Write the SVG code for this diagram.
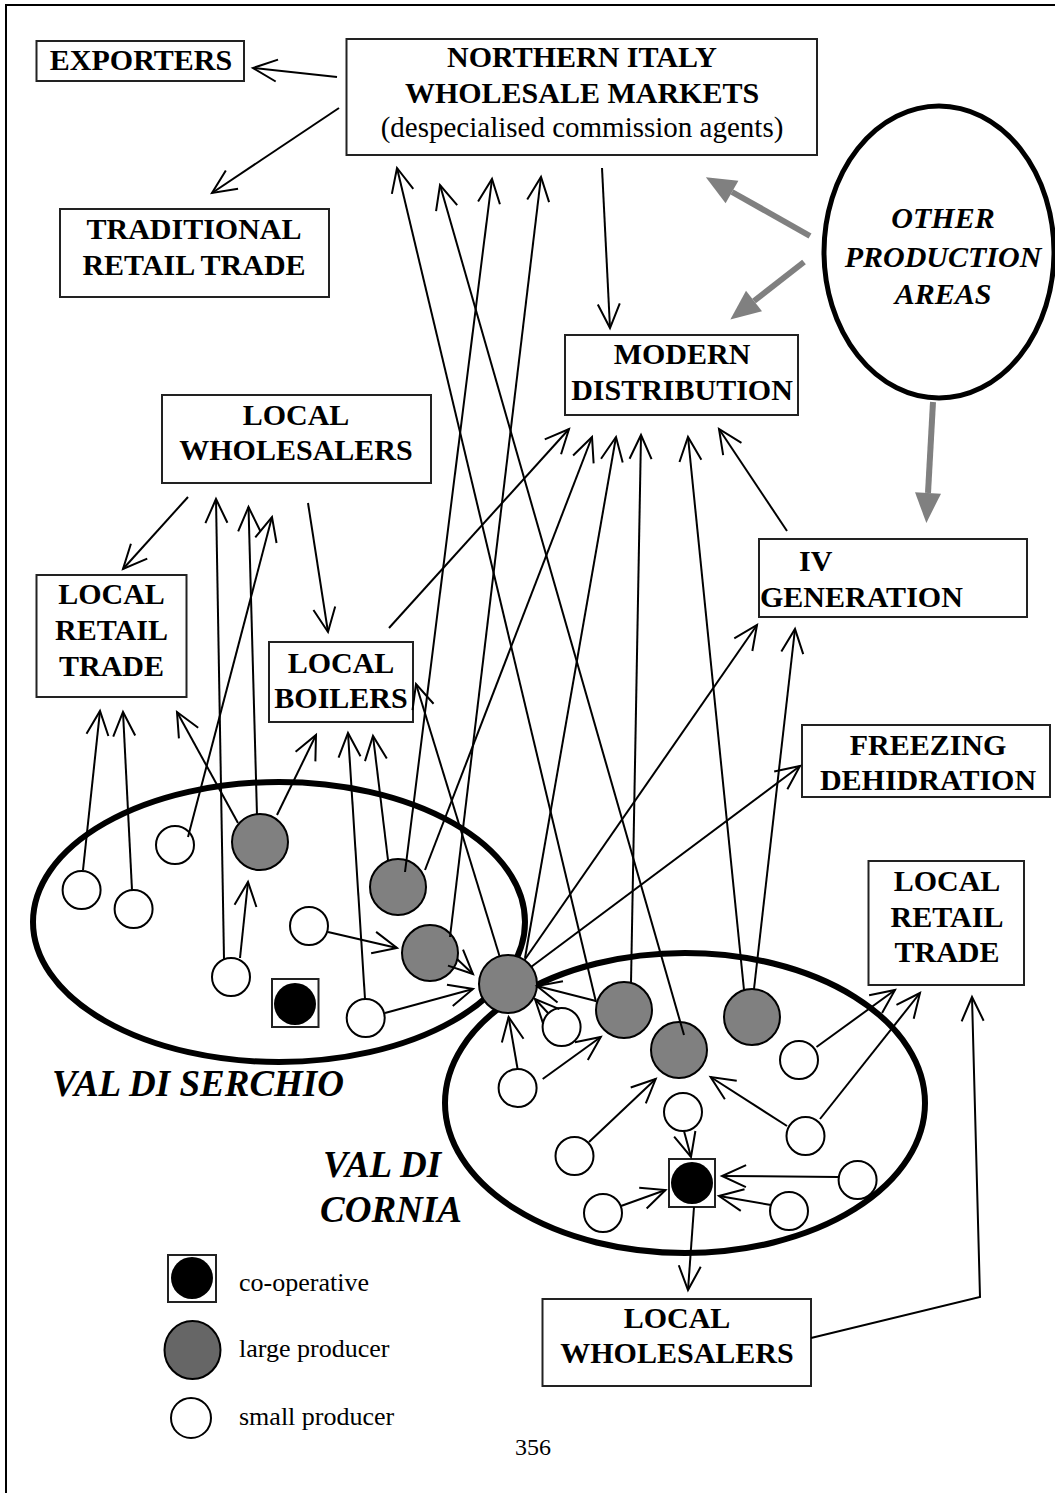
<svg xmlns="http://www.w3.org/2000/svg" width="1055" height="1493" viewBox="0 0 1055 1493">
<style>
.box{fill:#fff;stroke:#222;stroke-width:2}
.b{font-family:"Liberation Serif","Times New Roman",serif;font-weight:bold;font-size:30px;text-anchor:middle;fill:#000}
.bl{font-family:"Liberation Serif","Times New Roman",serif;font-weight:bold;font-size:30px;fill:#000}
.bi{font-family:"Liberation Serif","Times New Roman",serif;font-weight:bold;font-style:italic;font-size:30px;text-anchor:middle;fill:#000}
.r{font-family:"Liberation Serif","Times New Roman",serif;font-size:29px;text-anchor:middle;fill:#000}
.lg{font-family:"Liberation Serif","Times New Roman",serif;font-size:26px;fill:#000}
.reg{font-family:"Liberation Serif","Times New Roman",serif;font-weight:bold;font-style:italic;font-size:37px;fill:#000}
.sp{fill:#fff;stroke:#000;stroke-width:2}
.lp{fill:#808080;stroke:#000;stroke-width:2}
.coop{fill:#000}
.area{fill:none;stroke:#000;stroke-width:6}
.c line,.c polyline{fill:none;stroke:#000;stroke-width:2;marker-end:url(#ah)}
.g line{stroke:#808080;stroke-width:6;marker-end:url(#gh)}
</style>
<defs>
<marker id="ah" markerUnits="userSpaceOnUse" markerWidth="30" markerHeight="30" refX="0" refY="0" orient="auto" overflow="visible">
<path d="M-24,-11 L0,0 L-24,11" fill="none" stroke="#000" stroke-width="2"/>
</marker>
<marker id="gh" markerUnits="userSpaceOnUse" markerWidth="32" markerHeight="30" refX="0" refY="0" orient="auto" overflow="visible">
<path d="M30,0 L0,-13 L0,13 Z" fill="#808080"/>
</marker>
</defs>
<rect width="1055" height="1493" fill="#fff"/>
<rect x="6" y="5" width="1070" height="1510" fill="none" stroke="#000" stroke-width="2"/>

<g id="val-di-serchio">
<ellipse class="area" cx="279" cy="922" rx="246" ry="140"/>
<text class="reg" x="52" y="1096">VAL DI SERCHIO</text>
</g>
<g id="val-di-cornia">
<ellipse class="area" cx="685" cy="1103" rx="240" ry="150"/>
<text class="reg" x="323" y="1177">VAL DI</text>
<text class="reg" x="320" y="1222">CORNIA</text>
</g>
<g id="other-production-areas">
<ellipse cx="939" cy="252" rx="115" ry="146" fill="#fff" stroke="#000" stroke-width="5"/>
<text class="bi" x="943" y="228">OTHER</text>
<text class="bi" x="943" y="267">PRODUCTION</text>
<text class="bi" x="943" y="304">AREAS</text>
</g>

<g id="exporters">
<rect class="box" x="36.5" y="41" width="207.5" height="40"/>
<text class="b" x="141" y="70">EXPORTERS</text>
</g>
<g id="northern-italy-wholesale-markets">
<rect class="box" x="346.5" y="39" width="470.5" height="116"/>
<text class="b" x="582" y="67">NORTHERN ITALY</text>
<text class="b" x="582" y="103">WHOLESALE MARKETS</text>
<text class="r" x="582" y="137">(despecialised commission agents)</text>
</g>
<g id="traditional-retail-trade">
<rect class="box" x="60" y="209" width="269" height="88"/>
<text class="b" x="194" y="239">TRADITIONAL</text>
<text class="b" x="194" y="275">RETAIL TRADE</text>
</g>
<g id="modern-distribution">
<rect class="box" x="565" y="335" width="233" height="80"/>
<text class="b" x="682" y="364">MODERN</text>
<text class="b" x="682" y="400">DISTRIBUTION</text>
</g>
<g id="local-wholesalers-top">
<rect class="box" x="162" y="395" width="269" height="88"/>
<text class="b" x="296" y="425">LOCAL</text>
<text class="b" x="296" y="460">WHOLESALERS</text>
</g>
<g id="local-retail-trade-left">
<rect class="box" x="36.5" y="575" width="150" height="122"/>
<text class="b" x="111.5" y="604">LOCAL</text>
<text class="b" x="111.5" y="640">RETAIL</text>
<text class="b" x="111.5" y="676">TRADE</text>
</g>
<g id="local-boilers">
<rect class="box" x="269" y="642" width="144" height="80"/>
<text class="b" x="341" y="673">LOCAL</text>
<text class="b" x="341" y="708">BOILERS</text>
</g>
<g id="iv-generation">
<rect class="box" x="759" y="539" width="268" height="78"/>
<text class="bl" x="799" y="571">IV</text>
<text class="bl" x="760" y="607">GENERATION</text>
</g>
<g id="freezing-dehidration">
<rect class="box" x="802" y="725" width="248" height="72"/>
<text class="b" x="928" y="755">FREEZING</text>
<text class="b" x="928" y="790">DEHIDRATION</text>
</g>
<g id="local-retail-trade-right">
<rect class="box" x="868.5" y="861" width="155.5" height="124"/>
<text class="b" x="947" y="891">LOCAL</text>
<text class="b" x="947" y="927">RETAIL</text>
<text class="b" x="947" y="962">TRADE</text>
</g>
<g id="local-wholesalers-bottom">
<rect class="box" x="542.5" y="1299" width="268.5" height="87"/>
<text class="b" x="677" y="1328">LOCAL</text>
<text class="b" x="677" y="1363">WHOLESALERS</text>
</g>

<g id="serchio-producers">
<circle class="sp" cx="81.6" cy="890" r="19"/>
<circle class="sp" cx="133.6" cy="909" r="19"/>
<circle class="sp" cx="175" cy="845" r="19"/>
<circle class="lp" cx="260" cy="842" r="28"/>
<circle class="sp" cx="309" cy="926" r="19"/>
<circle class="lp" cx="398" cy="887" r="28"/>
<circle class="sp" cx="231" cy="977" r="19"/>
<circle class="lp" cx="430" cy="953" r="28"/>
<circle class="sp" cx="365.7" cy="1018" r="19"/>
<rect class="box" x="272" y="979" width="46.5" height="48"/>
<circle class="coop" cx="295" cy="1004" r="21"/>
</g>
<g id="hub-producer">
<circle class="lp" cx="508" cy="984" r="29"/>
</g>
<g id="cornia-producers">
<circle class="lp" cx="624" cy="1010" r="28"/>
<circle class="lp" cx="679" cy="1050" r="28"/>
<circle class="lp" cx="752" cy="1017" r="28"/>
<circle class="sp" cx="561.6" cy="1027" r="19"/>
<circle class="sp" cx="517.6" cy="1088" r="19"/>
<circle class="sp" cx="799" cy="1060" r="19"/>
<circle class="sp" cx="683" cy="1112" r="19"/>
<circle class="sp" cx="805.5" cy="1136" r="19"/>
<circle class="sp" cx="574.5" cy="1156" r="19"/>
<circle class="sp" cx="857.6" cy="1180" r="19"/>
<circle class="sp" cx="603" cy="1213" r="19"/>
<circle class="sp" cx="789" cy="1211" r="19"/>
<rect class="box" x="669" y="1159" width="46" height="48"/>
<circle class="coop" cx="692" cy="1183" r="21"/>
</g>

<g id="legend">
<rect class="box" x="168" y="1255" width="48" height="47"/>
<circle class="coop" cx="192" cy="1278" r="21"/>
<text class="lg" x="239" y="1291">co-operative</text>
<ellipse cx="192.5" cy="1350" rx="28" ry="29" fill="#666" stroke="#000" stroke-width="2"/>
<text class="lg" x="239" y="1357">large producer</text>
<circle class="sp" cx="191" cy="1418" r="20"/>
<text class="lg" x="239" y="1425">small producer</text>
</g>
<g id="page-number">
<text x="533" y="1455" font-family="Liberation Serif, Times New Roman, serif" font-size="24" text-anchor="middle">356</text>
</g>

<g id="connectors" class="c">
<line x1="337" y1="77" x2="253" y2="68"/>
<line x1="339" y1="108" x2="212" y2="193"/>
<line x1="602" y1="168" x2="610" y2="328"/>
<line x1="596" y1="1002" x2="397" y2="168"/>
<line x1="684" y1="1035" x2="440" y2="185"/>
<line x1="405" y1="872" x2="492" y2="179"/>
<line x1="450" y1="937" x2="541" y2="177"/>
<line x1="389" y1="628" x2="569" y2="429"/>
<line x1="425" y1="870" x2="592" y2="437"/>
<line x1="525" y1="958" x2="616" y2="437"/>
<line x1="631" y1="983" x2="641" y2="435"/>
<line x1="744" y1="990" x2="688" y2="437"/>
<line x1="787" y1="531" x2="719" y2="429"/>
<line x1="524.5" y1="960" x2="757" y2="625"/>
<line x1="754" y1="989" x2="795" y2="629"/>
<line x1="531" y1="967" x2="800" y2="766"/>
<line x1="499.5" y1="956" x2="416" y2="684"/>
<line x1="457" y1="959" x2="473" y2="974"/>
<line x1="385" y1="1013" x2="473" y2="989"/>
<line x1="596" y1="1001" x2="537" y2="986"/>
<line x1="548" y1="1013" x2="535" y2="999"/>
<line x1="517.6" y1="1069" x2="508.6" y2="1017"/>
<line x1="328" y1="932" x2="397" y2="948"/>
<line x1="240" y1="958" x2="248" y2="882"/>
<line x1="83" y1="870" x2="100" y2="711"/>
<line x1="132" y1="890" x2="123" y2="712"/>
<line x1="238" y1="823" x2="177" y2="712"/>
<line x1="224" y1="959" x2="216" y2="499"/>
<line x1="257" y1="815" x2="248.5" y2="507"/>
<line x1="188" y1="837" x2="272" y2="517"/>
<line x1="188" y1="497" x2="123" y2="569"/>
<line x1="308" y1="503" x2="328" y2="632"/>
<line x1="277" y1="815" x2="316" y2="735"/>
<line x1="365" y1="999" x2="348" y2="733"/>
<line x1="388" y1="860" x2="373" y2="736"/>
<line x1="542.7" y1="1079" x2="600.8" y2="1037"/>
<line x1="589" y1="1142" x2="655.7" y2="1079"/>
<line x1="787" y1="1126" x2="710.6" y2="1077"/>
<line x1="816.5" y1="1047" x2="895" y2="990"/>
<line x1="820" y1="1119" x2="920" y2="993"/>
<line x1="684" y1="1131" x2="691" y2="1157"/>
<line x1="838" y1="1177" x2="722" y2="1176"/>
<line x1="771" y1="1205" x2="719" y2="1196"/>
<line x1="621" y1="1206" x2="665.5" y2="1190"/>
<line x1="694" y1="1207" x2="688" y2="1290"/>
<polyline points="811,1338 980,1297 972,997"/>
</g>
<g id="gray-connectors" class="g">
<line x1="810" y1="236" x2="732" y2="192"/>
<line x1="804" y1="262" x2="754" y2="301"/>
<line x1="933" y1="402" x2="928" y2="493"/>
</g>
</svg>
